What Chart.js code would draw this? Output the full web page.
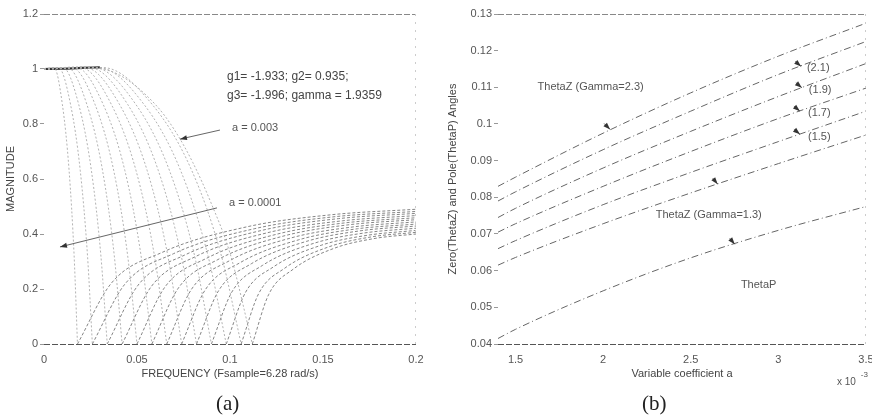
<!DOCTYPE html>
<html>
<head>
<meta charset="utf-8">
<script src="https://cdn.jsdelivr.net/npm/chart.js@4.4.1/dist/chart.umd.min.js"></script>
<style>
  html, body { margin: 0; padding: 0; background: #fff; }
  #wrap { position: relative; width: 872px; height: 420px; }
  .box { position: absolute; top: 0; width: 436px; height: 420px; }
  #boxA { left: 0; }
  #boxB { left: 436px; }
  .cap { position: absolute; top: 391px; font-family: "Liberation Serif", "DejaVu Serif", serif; font-size: 21px; color: #222; }
</style>
</head>
<body>
<div id="wrap">
  <div class="box" id="boxA"><canvas id="chartA" width="436" height="420"></canvas></div>
  <div class="box" id="boxB"><canvas id="chartB" width="436" height="420"></canvas></div>
  <div class="cap" style="left:216px">(a)</div>
  <div class="cap" style="left:642px">(b)</div>
</div>
<script>
// ---- (a) magnitude responses, one curve per value of a ----
const aLabels = ['0.0001', '0.00035', '0.0006', '0.00085', '0.0011', '0.00135', '0.0016',
                 '0.00185', '0.0021', '0.00235', '0.0026', '0.00285', '0.003'];

// falling branch: 1 at f=0 down to the notch
const fallCurves = [
  [[0, 1], [0.0054, 1.005], [0.0099, 0.87], [0.0135, 0.63], [0.0162, 0.32], [0.018, 0]],
  [[0, 1], [0.0078, 1.005], [0.0143, 0.87], [0.0195, 0.63], [0.0234, 0.32], [0.026, 0]],
  [[0, 1], [0.0102, 1.005], [0.0187, 0.87], [0.0255, 0.63], [0.0306, 0.32], [0.034, 0]],
  [[0, 1], [0.0126, 1.005], [0.0231, 0.87], [0.0315, 0.63], [0.0378, 0.32], [0.042, 0]],
  [[0, 1], [0.015, 1.005], [0.0275, 0.87], [0.0375, 0.63], [0.045, 0.32], [0.05, 0]],
  [[0, 1], [0.0174, 1.005], [0.0319, 0.87], [0.0435, 0.63], [0.0522, 0.32], [0.058, 0]],
  [[0, 1], [0.0198, 1.005], [0.0363, 0.87], [0.0495, 0.63], [0.0594, 0.32], [0.066, 0]],
  [[0, 1], [0.0222, 1.005], [0.0407, 0.87], [0.0555, 0.63], [0.0666, 0.32], [0.074, 0]],
  [[0, 1], [0.0246, 1.005], [0.0451, 0.87], [0.0615, 0.63], [0.0738, 0.32], [0.082, 0]],
  [[0, 1], [0.027, 1.005], [0.0495, 0.87], [0.0675, 0.63], [0.081, 0.32], [0.09, 0]],
  [[0, 1], [0.0294, 1.005], [0.0539, 0.87], [0.0735, 0.63], [0.0882, 0.32], [0.098, 0]],
  [[0, 1], [0.0318, 1.005], [0.0583, 0.87], [0.0795, 0.63], [0.0954, 0.32], [0.106, 0]],
  [[0, 1], [0.02, 1.008], [0.04, 0.98], [0.06, 0.87], [0.07, 0.78], [0.08, 0.66], [0.09, 0.51], [0.1, 0.33], [0.112, 0]]
];

// rising branch: from the notch up to f=0.2
const riseCurves = [
  [[0.018, 0], [0.0362, 0.221], [0.0635, 0.333], [0.109, 0.426], [0.1545, 0.470], [0.2, 0.49]],
  [[0.026, 0], [0.0434, 0.217], [0.0695, 0.328], [0.113, 0.419], [0.1565, 0.463], [0.2, 0.482]],
  [[0.034, 0], [0.0506, 0.214], [0.0755, 0.323], [0.117, 0.413], [0.1585, 0.456], [0.2, 0.475]],
  [[0.042, 0], [0.0578, 0.210], [0.0815, 0.318], [0.121, 0.406], [0.1605, 0.448], [0.2, 0.467]],
  [[0.05, 0], [0.065, 0.207], [0.0875, 0.312], [0.125, 0.399], [0.1625, 0.441], [0.2, 0.459]],
  [[0.058, 0], [0.0722, 0.203], [0.0935, 0.307], [0.129, 0.393], [0.1645, 0.434], [0.2, 0.452]],
  [[0.066, 0], [0.0794, 0.200], [0.0995, 0.302], [0.133, 0.386], [0.1665, 0.426], [0.2, 0.444]],
  [[0.074, 0], [0.0866, 0.196], [0.1055, 0.296], [0.137, 0.379], [0.1685, 0.419], [0.2, 0.436]],
  [[0.082, 0], [0.0938, 0.193], [0.1115, 0.292], [0.141, 0.373], [0.1705, 0.412], [0.2, 0.429]],
  [[0.09, 0], [0.101, 0.189], [0.1175, 0.286], [0.145, 0.366], [0.1725, 0.404], [0.2, 0.421]],
  [[0.098, 0], [0.1082, 0.186], [0.1235, 0.281], [0.149, 0.359], [0.1745, 0.396], [0.2, 0.413]],
  [[0.106, 0], [0.1154, 0.183], [0.1295, 0.276], [0.153, 0.353], [0.1765, 0.390], [0.2, 0.406]],
  [[0.112, 0], [0.1208, 0.180], [0.134, 0.272], [0.156, 0.348], [0.178, 0.384], [0.2, 0.400]]
];

// heavy segment where all curves sit on top of each other near 1
const topEdge = [[0, 1], [0.01, 1.001], [0.02, 1.004], [0.03, 1.006]];

const freqTicks = [0, 0.05, 0.1, 0.15, 0.2];
const freqTickLabels = ['0', '0.05', '0.1', '0.15', '0.2'];
const magTicks = [0, 0.2, 0.4, 0.6, 0.8, 1, 1.2];
const magTickLabels = ['0', '0.2', '0.4', '0.6', '0.8', '1', '1.2'];

// ---- (b) zero / pole angles vs coefficient a (x 10^-3) ----
const coefA = [1.4, 1.5, 2.0, 2.5, 3.0, 3.5];
const thetaZ23 = [0.083, 0.0855, 0.0975, 0.1085, 0.1185, 0.1275];
const thetaZ21 = [0.079, 0.0815, 0.093, 0.1035, 0.1135, 0.1225];
const thetaZ19 = [0.0745, 0.077, 0.088, 0.098, 0.1075, 0.1165];
const thetaZ17 = [0.0705, 0.0728, 0.083, 0.0925, 0.1015, 0.1098];
const thetaZ15 = [0.066, 0.0682, 0.078, 0.0868, 0.0952, 0.1035];
const thetaZ13 = [0.0615, 0.0636, 0.0728, 0.0812, 0.0892, 0.097];
const thetaP = [0.0415, 0.044, 0.0545, 0.0635, 0.071, 0.0775];

const coefTicks = [1.5, 2, 2.5, 3, 3.5];
const coefTickLabels = ['1.5', '2', '2.5', '3', '3.5'];
const angleTicks = [0.04, 0.05, 0.06, 0.07, 0.08, 0.09, 0.1, 0.11, 0.12, 0.13];
const angleTickLabels = ['0.04', '0.05', '0.06', '0.07', '0.08', '0.09', '0.1', '0.11', '0.12', '0.13'];

const FONT = '"Liberation Sans", Arial, sans-serif';

// text + arrows drawn at data coordinates, plus the dashed frame
function makeNotes(texts, arrows) {
    return {
        id: 'notes',
        afterDatasetsDraw(chart) {
            const { ctx, chartArea: ca, scales: { x, y } } = chart;
            ctx.save();
            ctx.lineWidth = 1;
            ctx.setLineDash([6, 2]);
            ctx.strokeStyle = '#888';
            ctx.beginPath();
            ctx.moveTo(ca.left, ca.top + 0.5);
            ctx.lineTo(ca.right, ca.top + 0.5);
            ctx.stroke();
            ctx.strokeStyle = '#555';
            ctx.beginPath();
            ctx.moveTo(ca.left, ca.bottom + 0.5);
            ctx.lineTo(ca.right, ca.bottom + 0.5);
            ctx.stroke();
            ctx.setLineDash([2, 6]);
            ctx.strokeStyle = '#ccc';
            ctx.beginPath();
            ctx.moveTo(ca.right - 0.5, ca.top);
            ctx.lineTo(ca.right - 0.5, ca.bottom);
            ctx.stroke();
            ctx.setLineDash([]);

            texts.forEach(t => {
                ctx.font = (t.size || 11) + 'px ' + FONT;
                ctx.fillStyle = t.color || '#555';
                ctx.textAlign = 'left';
                ctx.textBaseline = 'middle';
                ctx.fillText(t.text, x.getPixelForValue(t.x), y.getPixelForValue(t.y));
            });

            arrows.forEach(a => {
                const x2 = x.getPixelForValue(a.x), y2 = y.getPixelForValue(a.y);
                const x1 = a.fx !== undefined ? x.getPixelForValue(a.fx) : x2 + a.dx;
                const y1 = a.fy !== undefined ? y.getPixelForValue(a.fy) : y2 + a.dy;
                const ang = Math.atan2(y2 - y1, x2 - x1);
                ctx.strokeStyle = '#555';
                ctx.fillStyle = '#333';
                ctx.lineWidth = 0.9;
                ctx.beginPath();
                ctx.moveTo(x1, y1);
                ctx.lineTo(x2, y2);
                ctx.stroke();
                ctx.beginPath();
                ctx.moveTo(x2, y2);
                ctx.lineTo(x2 - 7 * Math.cos(ang) + 2.5 * Math.sin(ang), y2 - 7 * Math.sin(ang) - 2.5 * Math.cos(ang));
                ctx.lineTo(x2 - 7 * Math.cos(ang) - 2.5 * Math.sin(ang), y2 - 7 * Math.sin(ang) + 2.5 * Math.cos(ang));
                ctx.closePath();
                ctx.fill();
            });
            ctx.restore();
        }
    };
}

function toPts(arr) {
    return arr.map(p => ({ x: p[0], y: p[1] }));
}

function axis(min, max, ticks, labels, title, size, isX) {
    return {
        type: 'linear',
        min: min,
        max: max,
        afterBuildTicks: s => { s.ticks = ticks.map(v => ({ value: v })); },
        afterFit: s => {
            if (isX) {
                s.height = 37;
                s.paddingRight = 0;
            } else {
                s.width = size;
            }
        },
        ticks: {
            callback: (v, i) => labels[i],
            color: '#555',
            font: { family: FONT, size: 11 },
            padding: isX ? 5 : 2,
            maxRotation: 0,
            autoSkip: false
        },
        grid: { display: !isX, drawOnChartArea: false, tickLength: 4, color: '#999' },
        border: { display: false },
        title: {
            display: true,
            text: title,
            color: '#444',
            font: { family: FONT, size: 11 },
            padding: isX ? { top: 4, bottom: 0 } : { top: size === 44 ? 4 : 10, bottom: 0 }
        }
    };
}

// Chart (a)
const dsA = [];
fallCurves.forEach((c, i) => {
    dsA.push({
        label: 'a=' + aLabels[i],
        data: toPts(c),
        borderColor: '#aaa',
        borderWidth: 0.9,
        borderDash: [2, 2],
        pointRadius: 0,
        cubicInterpolationMode: 'monotone'
    });
});
riseCurves.forEach((c, i) => {
    dsA.push({
        label: 'a=' + aLabels[i],
        data: toPts(c),
        borderColor: '#777',
        borderWidth: 0.9,
        borderDash: [3, 2],
        pointRadius: 0,
        cubicInterpolationMode: 'monotone'
    });
});
dsA.push({
    label: 'top',
    data: toPts(topEdge),
    borderColor: '#333',
    borderWidth: 2.2,
    pointRadius: 0,
    cubicInterpolationMode: 'monotone'
});

new Chart(document.getElementById('chartA'), {
    type: 'line',
    data: { datasets: dsA },
    options: {
        responsive: false,
        animation: false,
        layout: { padding: { top: 14, right: 20, bottom: 39, left: 0 } },
        plugins: { legend: { display: false }, tooltip: { enabled: false } },
        scales: {
            x: axis(0, 0.2, freqTicks, freqTickLabels, 'FREQUENCY (Fsample=6.28 rad/s)', 0, true),
            y: axis(0, 1.2, magTicks, magTickLabels, 'MAGNITUDE', 44, false)
        }
    },
    plugins: [makeNotes(
        [
            { text: 'g1= -1.933; g2= 0.935;', x: 0.0984, y: 0.971, size: 12, color: '#444' },
            { text: 'g3= -1.996; gamma = 1.9359', x: 0.0984, y: 0.902, size: 12, color: '#444' },
            { text: 'a = 0.003', x: 0.1011, y: 0.785 },
            { text: 'a = 0.0001', x: 0.0995, y: 0.513 }
        ],
        [
            { x: 0.0731, y: 0.745, fx: 0.0946, fy: 0.778 },
            { x: 0.0086, y: 0.353, fx: 0.093, fy: 0.495 }
        ]
    )]
});

// Chart (b)
const lineStyle = {
    borderColor: '#666',
    borderWidth: 1,
    borderDash: [7, 3, 1, 3],
    pointRadius: 0,
    cubicInterpolationMode: 'monotone'
};
const seriesB = [
    ['ThetaZ 2.3', thetaZ23], ['ThetaZ 2.1', thetaZ21], ['ThetaZ 1.9', thetaZ19],
    ['ThetaZ 1.7', thetaZ17], ['ThetaZ 1.5', thetaZ15], ['ThetaZ 1.3', thetaZ13], ['ThetaP', thetaP]
];

new Chart(document.getElementById('chartB'), {
    type: 'line',
    data: {
        datasets: seriesB.map(s => Object.assign({
            label: s[0],
            data: coefA.map((a, i) => ({ x: a, y: s[1][i] }))
        }, lineStyle))
    },
    options: {
        responsive: false,
        animation: false,
        layout: { padding: { top: 14, right: 6, bottom: 39, left: 0 } },
        plugins: { legend: { display: false }, tooltip: { enabled: false } },
        scales: {
            x: axis(1.4, 3.5, coefTicks, coefTickLabels, 'Variable coefficient a', 0, true),
            y: axis(0.04, 0.13, angleTicks, angleTickLabels, 'Zero(ThetaZ) and Pole(ThetaP) Angles', 62, false)
        }
    },
    plugins: [makeNotes(
        [
            { text: 'ThetaZ (Gamma=2.3)', x: 1.626, y: 0.1101 },
            { text: '(2.1)', x: 3.163, y: 0.1153 },
            { text: '(1.9)', x: 3.174, y: 0.1093 },
            { text: '(1.7)', x: 3.169, y: 0.103 },
            { text: '(1.5)', x: 3.169, y: 0.0965 },
            { text: 'ThetaZ (Gamma=1.3)', x: 2.3, y: 0.0752 },
            { text: 'ThetaP', x: 2.786, y: 0.0561 },
            { text: 'x 10', x: 3.334, y: 0.0296, size: 10 },
            { text: '-3', x: 3.47, y: 0.0316, size: 8 }
        ],
        [
            { x: 2.04, y: 0.0985, dx: -6, dy: -6 },
            { x: 3.13, y: 0.1157, dx: -6, dy: -5 },
            { x: 3.134, y: 0.1099, dx: -6, dy: -5 },
            { x: 3.123, y: 0.1035, dx: -6, dy: -5 },
            { x: 3.123, y: 0.0972, dx: -6, dy: -5 },
            { x: 2.654, y: 0.0836, dx: -5, dy: -6 },
            { x: 2.751, y: 0.0672, dx: -5, dy: -6 }
        ]
    )]
});
</script>
</body>
</html>
